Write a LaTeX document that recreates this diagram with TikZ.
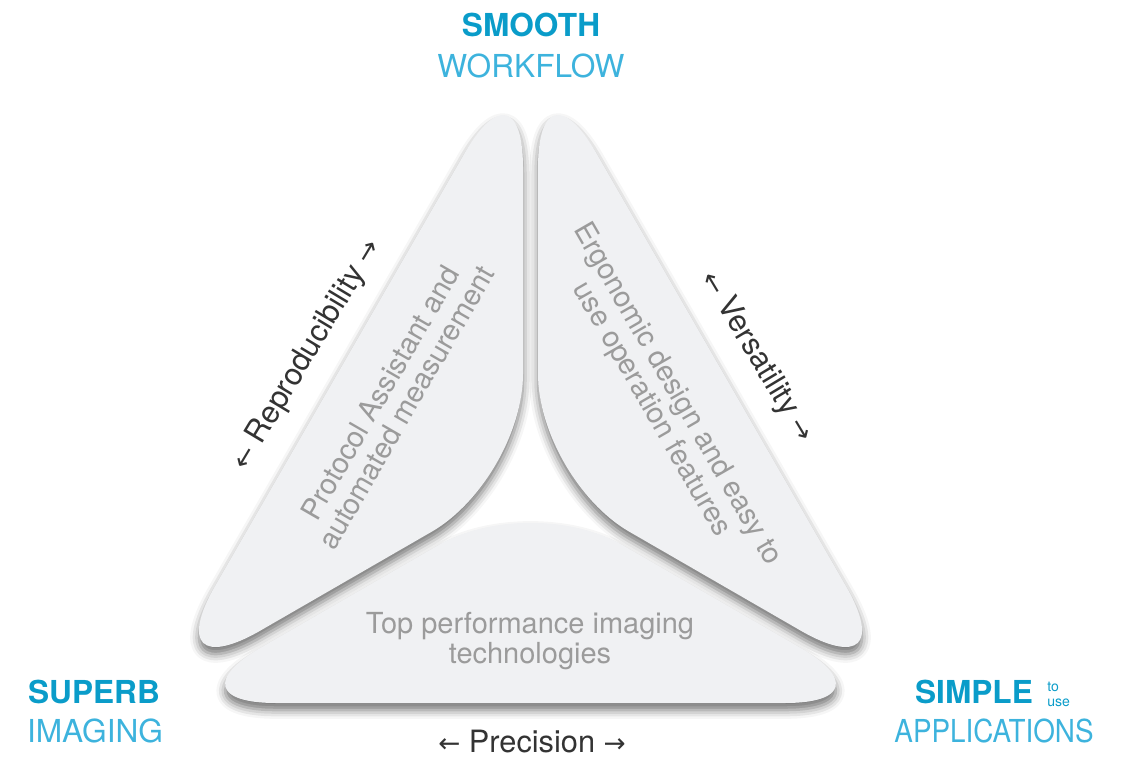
\documentclass[tikz,border=0pt]{standalone}
\usepackage{fontspec}
\setmainfont{TeX Gyre Heros}
\newfontfamily\arrowfont{DejaVu Sans}
\usepackage{xcolor}
\usepackage{tikz}
\usetikzlibrary{calc,shadows.blur}

\definecolor{headblue}{HTML}{0A9CC9}
\definecolor{lightblue}{HTML}{3DB3DD}
\definecolor{petalgray}{HTML}{F0F1F3}
\definecolor{labelgray}{HTML}{333333}
\definecolor{innergray}{HTML}{9B9B9B}

\newcommand{\larr}{{\arrowfont\fontsize{15}{16}\selectfont ←}}
\newcommand{\rarr}{{\arrowfont\fontsize{15}{16}\selectfont →}}

\tikzset{
    petal/.style={fill=petalgray, blur shadow={shadow xshift=0pt, shadow yshift=-4pt, shadow blur radius=5pt, shadow opacity=55}},
    head/.style={font=\fontsize{18}{20}\selectfont\bfseries, text=headblue, inner sep=0pt},
    subhead/.style={font=\fontsize{18}{20}\selectfont, text=lightblue, inner sep=0pt},
    axislabel/.style={font=\fontsize{17.5}{20}\selectfont, text=labelgray, inner sep=0pt},
    innertext/.style={font=\fontsize{16.5}{17}\selectfont, text=innergray, align=center, inner sep=0pt},
}

\begin{document}
\begin{tikzpicture}[x=0.02cm, y=-0.02cm]
    \useasboundingbox (0,0) rectangle (1128,759);

    % Corners of the petals
    \coordinate (lt) at (523,52);
    \coordinate (lb) at (154,692);
    \coordinate (li) at (523,479);
    \coordinate (rt) at (538,52);
    \coordinate (rb) at (907,692);
    \coordinate (ri) at (538,479);
    \coordinate (bt) at (530.5,492);
    \coordinate (bl) at (165,703);
    \coordinate (br) at (896,703);

    % Petals
    \fill[petal] ($(lt)!0.5!(lb)$) [rounded corners=70] -- (lb) [rounded corners=60] -- (li) [rounded corners=66] -- (lt) -- cycle;
    \fill[petal] ($(rt)!0.5!(rb)$) [rounded corners=70] -- (rb) [rounded corners=60] -- (ri) [rounded corners=66] -- (rt) -- cycle;
    \fill[petal] ($(bl)!0.5!(br)$) [rounded corners=63] -- (br) [rounded corners=60] -- (bt) [rounded corners=63] -- (bl) -- cycle;

    % Corner titles
    \node[head] (smooth) at (531,25) {SMOOTH};
    \node[subhead] (workflow) at (531,66) {WORKFLOW};
    \node[head] (superb) at (94,692) {SUPERB};
    \node[subhead] (imaging) at (95,731) {IMAGING};
    \node[head] (simple) at (974,692) {SIMPLE};
    \node[font=\fontsize{8}{8.5}\selectfont, text=headblue, align=left, inner sep=0pt, anchor=west] (touse) at (1047,694) {to\\use};
    \node[subhead, xscale=0.88] (applications) at (994,731) {APPLICATIONS};

    % Side labels
    \node[axislabel, rotate=59] (repro) at (307,355) {\larr\ Reproducibility \rarr};
    \node[axislabel, rotate=-59] (versa) at (757,357) {\larr\ Versatility \rarr};
    \node[axislabel] (precision) at (532,742) {\larr\ Precision \rarr};

    % Petal texts
    \node[innertext, rotate=60] (protocol) at (393,400) {Protocol Assistant and\\automated measurement};
    \node[innertext, rotate=-60] (ergonomic) at (664,402) {Ergonomic design and easy to\\use operation features};
    \node[innertext] (topperf) at (530,641) {Top performance imaging\\technologies};
\end{tikzpicture}
\end{document}
